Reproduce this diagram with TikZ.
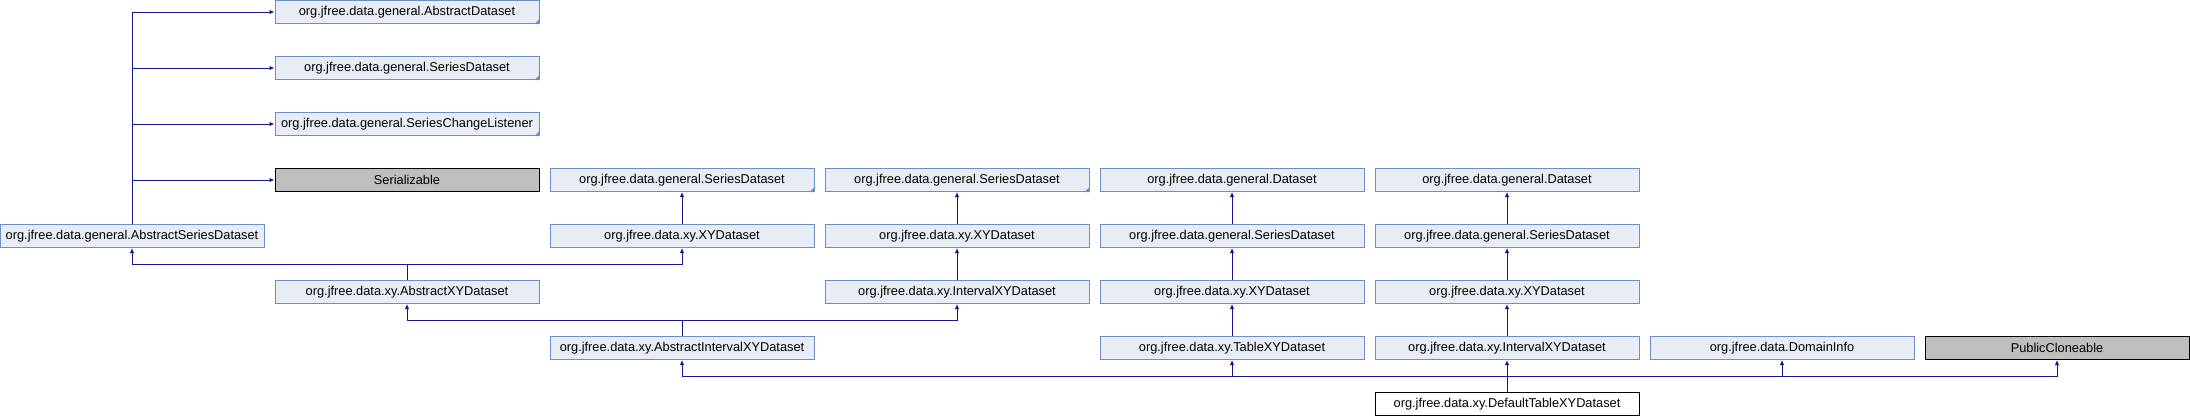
\documentclass[tikz,border=0pt]{standalone}
\usepackage{fontspec}
\setmainfont{Liberation Sans}
\usetikzlibrary{arrows.meta}
\definecolor{boxfill}{RGB}{232,236,245}
\definecolor{boxline}{RGB}{110,140,200}
\definecolor{edgeblue}{RGB}{20,20,150}
\definecolor{extfill}{RGB}{191,191,191}
\tikzset{
 cls/.style
  = {rectangle, draw=boxline, fill=boxfill, minimum width=264pt, minimum height=23pt,
     inner sep=0pt, line width=1pt, font=\fontsize{12.8}{15}\selectfont},
 ext/.style
  = {cls, draw=black, fill=extfill},
 self/.style
  = {cls, draw=black, fill=white},
 edge/.style
  = {draw=edgeblue, line width=1pt, -{Latex[length=5pt,width=4.5pt]}},
}

\begin{document}
\begin{tikzpicture}[x=1pt,y=-1pt]
\useasboundingbox (0,0) rectangle (2190,416);

% Interfaces of AbstractSeriesDataset
\node[cls] (gad) at (407,12) {org.jfree.data.general.AbstractDataset};
\node[cls] (gsd) at (407,68) {org.jfree.data.general.SeriesDataset};
\node[cls] (scl) at (407,124) {org.jfree.data.general.SeriesChangeListener};
\node[ext] (ser) at (407,180) {Serializable};

% Top row of the parallel chains
\node[cls] (sd3) at (682,180) {org.jfree.data.general.SeriesDataset};
\node[cls] (sd4) at (957,180) {org.jfree.data.general.SeriesDataset};
\node[cls] (ds5) at (1232,180) {org.jfree.data.general.Dataset};
\node[cls] (ds6) at (1507,180) {org.jfree.data.general.Dataset};

% Second row
\node[cls] (asd) at (132,236) {org.jfree.data.general.AbstractSeriesDataset};
\node[cls] (xy3) at (682,236) {org.jfree.data.xy.XYDataset};
\node[cls] (xy4) at (957,236) {org.jfree.data.xy.XYDataset};
\node[cls] (sd5) at (1232,236) {org.jfree.data.general.SeriesDataset};
\node[cls] (sd6) at (1507,236) {org.jfree.data.general.SeriesDataset};

% Third row
\node[cls] (axy) at (407,292) {org.jfree.data.xy.AbstractXYDataset};
\node[cls] (ixy4) at (957,292) {org.jfree.data.xy.IntervalXYDataset};
\node[cls] (xy5) at (1232,292) {org.jfree.data.xy.XYDataset};
\node[cls] (xy6) at (1507,292) {org.jfree.data.xy.XYDataset};

% Direct parents
\node[cls] (aixy) at (682,348) {org.jfree.data.xy.AbstractIntervalXYDataset};
\node[cls] (txy5) at (1232,348) {org.jfree.data.xy.TableXYDataset};
\node[cls] (ixy6) at (1507,348) {org.jfree.data.xy.IntervalXYDataset};
\node[cls] (dinfo) at (1782,348) {org.jfree.data.DomainInfo};
\node[ext] (pclone) at (2057,348) {PublicCloneable};

% The class itself
\node[self] (dtxy) at (1507,404) {org.jfree.data.xy.DefaultTableXYDataset};

% Truncation marks
\foreach \n in {gad,gsd,scl,sd3,sd4}
  \fill[boxline] (\n.south east) -- ++(-5,0) -- ++(5,-5) -- cycle;

% AbstractSeriesDataset
\draw[edge] (asd.north) |- (gad.west);
\draw[edge] (asd.north) |- (gsd.west);
\draw[edge] (asd.north) |- (scl.west);
\draw[edge] (asd.north) |- (ser.west);

% AbstractXYDataset
\draw[edge] (axy.north) -- ++(0,-16) -| (asd.south);
\draw[edge] (axy.north) -- ++(0,-16) -| (xy3.south);

% AbstractIntervalXYDataset
\draw[edge] (aixy.north) -- ++(0,-16) -| (axy.south);
\draw[edge] (aixy.north) -- ++(0,-16) -| (ixy4.south);

% Chains
\draw[edge] (xy3.north) -- (sd3.south);
\draw[edge] (xy4.north) -- (sd4.south);
\draw[edge] (ixy4.north) -- (xy4.south);
\draw[edge] (sd5.north) -- (ds5.south);
\draw[edge] (xy5.north) -- (sd5.south);
\draw[edge] (txy5.north) -- (xy5.south);
\draw[edge] (sd6.north) -- (ds6.south);
\draw[edge] (xy6.north) -- (sd6.south);
\draw[edge] (ixy6.north) -- (xy6.south);

% DefaultTableXYDataset
\draw[edge] (dtxy.north) -- ++(0,-16) -| (aixy.south);
\draw[edge] (dtxy.north) -- ++(0,-16) -| (txy5.south);
\draw[edge] (dtxy.north) -- (ixy6.south);
\draw[edge] (dtxy.north) -- ++(0,-16) -| (dinfo.south);
\draw[edge] (dtxy.north) -- ++(0,-16) -| (pclone.south);

\end{tikzpicture}
\end{document}
